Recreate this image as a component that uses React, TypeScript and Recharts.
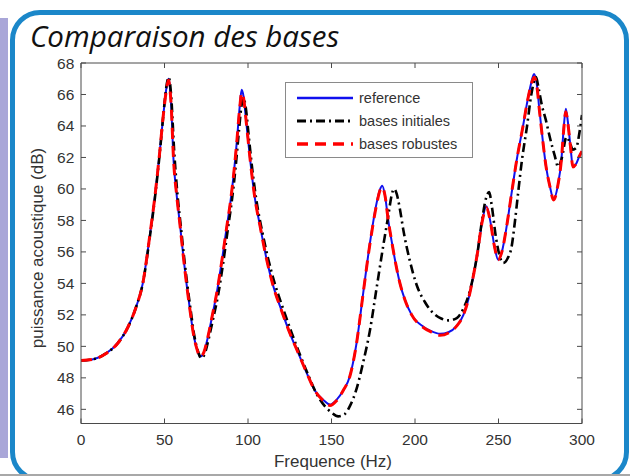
import React from 'react';
import { LineChart, Line, XAxis, YAxis } from 'recharts';

// ---------- data ----------
const refFreq = [0, 8, 15, 22, 28, 33, 37, 41.4, 44, 47, 49.5, 51, 51.8, 52.5, 53.2, 54, 55.4, 57.4, 59.4, 61.4, 63.4, 65.4, 67.3, 69.5, 71.4, 73.5, 76, 78.5, 81.3, 84.3, 87.3, 89.5, 91.3, 93.3, 95, 96.2, 97.3, 99, 101.3, 104, 107.3, 111, 115.2, 120, 125.2, 130, 135.2, 140, 145.1, 149.1, 153, 157, 161, 165, 169, 173, 177, 179, 180.4, 182, 184, 186, 188, 191, 194, 198, 205, 210, 215, 220, 225, 229, 232, 234.8, 237.5, 240, 242.8, 245, 247.5, 249.8, 252, 255, 257.8, 261, 264.7, 267, 269.5, 271.3, 273, 274.5, 276.7, 278.5, 280.7, 283, 285.5, 287.7, 289, 290.3, 291.5, 293, 294.6, 296.5, 298.5, 300];
const refLevel = [49.1, 49.2, 49.55, 50.2, 51.2, 52.5, 54.0, 57.2, 59.3, 62.2, 64.9, 66.3, 66.8, 67.0, 66.5, 65.3, 61.85, 59.5, 57.6, 55.6, 53.8, 52.2, 50.8, 49.8, 49.35, 49.6, 50.6, 51.9, 53.4, 55.4, 57.6, 59.2, 60.8, 63.0, 65.2, 66.3, 65.9, 64.2, 61.85, 59.5, 57.6, 55.6, 53.8, 52.3, 50.8, 49.6, 48.3, 47.2, 46.6, 46.3, 46.6, 47.2, 48.1, 50.2, 53.4, 56.55, 59.1, 59.95, 60.2, 59.6, 58.0, 56.7, 55.5, 54.0, 52.95, 52.0, 51.25, 50.95, 50.8, 50.9, 51.3, 52.0, 53.0, 54.4, 56.0, 57.8, 58.9, 58.0, 56.4, 55.5, 56.0, 57.7, 59.7, 61.9, 64.0, 65.4, 66.7, 67.3, 66.6, 65.0, 62.9, 61.4, 60.2, 59.35, 60.2, 61.9, 63.8, 65.1, 64.3, 62.8, 61.4, 61.6, 62.1, 62.4];

const robFreq = refFreq;
const robLevel = [49.1, 49.2, 49.55, 50.2, 51.2, 52.5, 54.0, 57.2, 59.3, 62.2, 64.9, 66.2, 66.7, 66.9, 66.4, 65.3, 61.9, 59.5, 57.6, 55.6, 53.8, 52.2, 50.8, 49.8, 49.35, 49.6, 50.6, 51.9, 53.4, 55.4, 57.6, 59.2, 60.8, 63.0, 65.1, 66.1, 65.8, 64.2, 61.85, 59.5, 57.6, 55.6, 53.8, 52.3, 50.8, 49.6, 48.3, 47.2, 46.55, 46.25, 46.55, 47.2, 48.1, 50.2, 53.4, 56.5, 59.0, 59.9, 60.1, 59.6, 58.0, 56.7, 55.5, 54.0, 52.95, 52.0, 51.2, 50.9, 50.7, 50.85, 51.3, 52.0, 53.0, 54.4, 56.0, 57.8, 58.8, 58.0, 56.4, 55.5, 56.0, 57.7, 59.7, 61.9, 64.0, 65.4, 66.6, 67.1, 66.5, 65.0, 62.9, 61.4, 60.2, 59.3, 60.2, 61.9, 63.7, 64.9, 64.2, 62.8, 61.4, 61.6, 62.1, 62.4];

const initFreq = [0, 8, 15, 22, 28, 33, 37, 41.4, 44, 47, 49.5, 51, 51.8, 52.5, 53.2, 54, 55.8, 57.8, 59.8, 61.8, 63.8, 65.8, 67.8, 70, 72, 74, 76.5, 79, 82, 85, 88, 90.5, 92.5, 94.5, 96, 97.2, 98.5, 100.3, 102.5, 105, 108.5, 112, 116, 121, 126, 131, 136, 141, 146, 150, 154, 158, 161, 165, 169, 173, 177, 181, 184, 186, 187.5, 189, 191, 193, 197, 201, 206, 211, 216, 220, 225, 229, 232.5, 234.8, 237.5, 240, 242.5, 244.4, 246, 248.5, 250.8, 252.8, 255.5, 257.8, 259.8, 261.7, 264, 267.1, 269.5, 271.5, 272.5, 274, 276, 278.3, 280.7, 283.7, 285.7, 288, 290.7, 292.5, 294.5, 296.5, 298.5, 300];
const initLevel = [49.1, 49.2, 49.55, 50.2, 51.2, 52.5, 54.0, 57.1, 59.2, 62.1, 64.9, 66.4, 66.9, 67.1, 66.8, 65.9, 62.4, 59.6, 57.6, 55.6, 53.8, 52.2, 50.7, 49.7, 49.25, 49.5, 50.5, 51.7, 53.2, 55.2, 57.5, 59.4, 61.3, 63.6, 65.2, 65.8, 65.3, 63.5, 61.3, 59.3, 57.3, 55.6, 54.0, 52.4, 50.9, 49.5, 48.2, 47.0, 46.2, 45.8, 45.55, 45.7, 46.2, 47.3, 49.0, 51.0, 53.7, 56.4, 58.3, 59.6, 60.0, 59.7, 58.7, 57.4, 55.4, 53.9, 52.8, 52.1, 51.75, 51.65, 51.8, 52.4, 53.4, 54.4, 56.0, 57.9, 59.4, 59.8, 58.9, 56.9, 55.7, 55.3, 55.6, 56.3, 57.9, 59.7, 61.8, 64.0, 65.9, 66.9, 67.1, 66.4, 65.3, 64.4, 63.3, 62.1, 61.4, 62.0, 63.3, 63.0, 62.5, 62.6, 63.6, 64.7];

const xTicks = [0, 50, 100, 150, 200, 250, 300];
const yTicks = [46, 48, 50, 52, 54, 56, 58, 60, 62, 64, 66, 68];
const seriesNames = ['reference', 'bases initiales', 'bases robustes'];
const titleText = 'Comparaison des bases';
const xLabelText = 'Frequence (Hz)';
const yLabelText = 'puissance acoustique (dB)';

const zip = (f: number[], v: number[]) => f.map((x, i) => ({ f: x, v: v[i] }));

const refData = zip(refFreq, refLevel);
const initData = zip(initFreq, initLevel);
const robData = zip(robFreq, robLevel);

const seriesStyles = [
  { data: refData, color: '#1010ee', width: 2, dash: undefined as string | undefined },
  { data: initData, color: '#000000', width: 2.6, dash: '9 4 2 4' },
  { data: robData, color: '#ff0000', width: 3, dash: '11 7' },
];

const FONT = '"Liberation Sans", Arial, Helvetica, sans-serif';
const AXIS = '#4a4a4a';
const Y_DOMAIN: [number, number] = [45.1, 68];

export default function App() {
  return (
    <div style={{ position: 'absolute', left: 0, top: 0, width: 630, height: 476, overflow: 'hidden', background: '#ffffff' }}>
      {/* slide background strip */}
      <div style={{ position: 'absolute', left: 0, top: 18, width: 8, height: 440, background: '#a9a6d8' }} />
      {/* rounded frame */}
      <div style={{ position: 'absolute', left: 10, top: 10, width: 619, height: 472, border: '5px solid #1b87c9', borderRadius: 30, boxSizing: 'border-box', background: '#ffffff' }} />
      <div style={{ position: 'absolute', left: 0, top: 474, width: 630, height: 2, background: '#a8a8a8' }} />

      <div style={{ position: 'absolute', left: 0, top: 0 }}>
        <LineChart width={630} height={476} margin={{ top: 62, right: 47, bottom: 22.5, left: 41 }}>
          <XAxis
            xAxisId="b"
            dataKey="f"
            type="number"
            domain={[0, 300]}
            ticks={xTicks}
            allowDataOverflow
            height={30}
            stroke={AXIS}
            tickSize={-5}
            tickMargin={15.5}
            tick={{ fill: '#333', fontSize: 15.5, fontFamily: FONT }}
          />
          <XAxis
            xAxisId="t"
            orientation="top"
            dataKey="f"
            type="number"
            domain={[0, 300]}
            ticks={xTicks}
            allowDataOverflow
            height={1}
            stroke={AXIS}
            tickSize={-5}
            tickFormatter={() => ''}
          />
          <YAxis
            yAxisId="l"
            type="number"
            domain={Y_DOMAIN}
            ticks={yTicks}
            allowDataOverflow
            width={40}
            stroke={AXIS}
            tickSize={-5}
            tickMargin={11.7}
            tick={{ fill: '#333', fontSize: 15.5, fontFamily: FONT }}
          />
          <YAxis
            yAxisId="r"
            orientation="right"
            type="number"
            domain={Y_DOMAIN}
            ticks={yTicks}
            allowDataOverflow
            width={1}
            stroke={AXIS}
            tickSize={-5}
            tickFormatter={() => ''}
          />
          {seriesStyles.map((s, i) => (
            <Line
              key={seriesNames[i]}
              name={seriesNames[i]}
              data={s.data}
              dataKey="v"
              xAxisId="b"
              yAxisId="l"
              type="monotone"
              stroke={s.color}
              strokeWidth={s.width}
              strokeDasharray={s.dash}
              dot={false}
              activeDot={false}
              isAnimationActive={false}
            />
          ))}
        </LineChart>
      </div>

      {/* legend */}
      <div style={{ position: 'absolute', left: 285, top: 82, width: 188, height: 76, border: '1px solid #8a8a8a', background: '#fff', boxSizing: 'border-box' }}>
        <svg width={188} height={76} style={{ position: 'absolute', left: -1, top: -1 }}>
          {seriesStyles.map((s, i) => (
            <g key={i}>
              <line x1={12} x2={68} y1={16 + i * 23} y2={16 + i * 23} stroke={s.color} strokeWidth={s.width + 0.3} strokeDasharray={s.dash} />
              <text x={74} y={16 + i * 23 + 5} fontSize={14.5} fontFamily={FONT} fill="#333">{seriesNames[i]}</text>
            </g>
          ))}
        </svg>
      </div>

      {/* title and axis labels */}
      <svg width={630} height={476} style={{ position: 'absolute', left: 0, top: 0, pointerEvents: 'none' }}>
        <text x={30} y={47} fontSize={29.5} fontStyle="italic" fontFamily='"Open Sans", "Noto Sans", sans-serif' fill="#111">{titleText}</text>
        <text x={333} y={467} fontSize={17} textAnchor="middle" fontFamily={FONT} fill="#333">{xLabelText}</text>
        <text transform="translate(43,248) rotate(-90)" fontSize={17} textAnchor="middle" fontFamily={FONT} fill="#333">{yLabelText}</text>
      </svg>
    </div>
  );
}
